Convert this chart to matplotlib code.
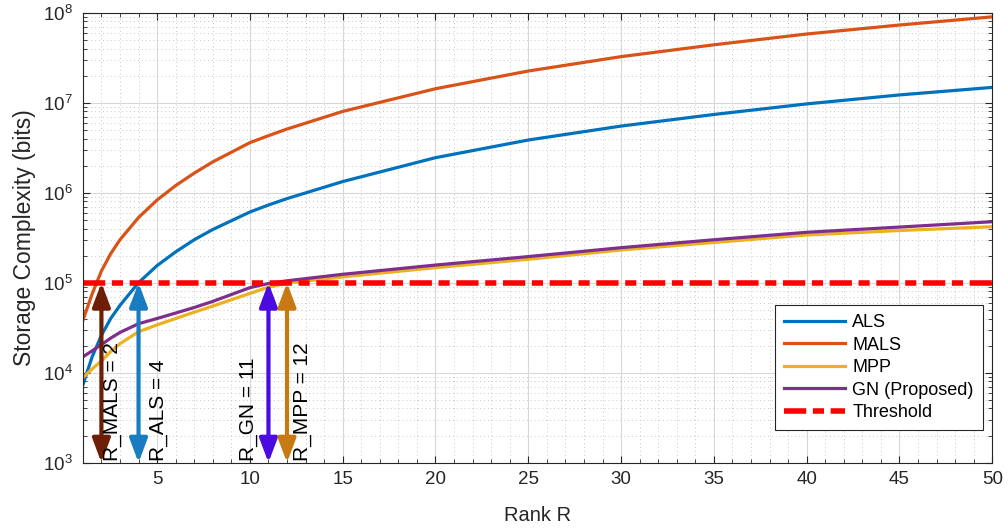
import matplotlib
matplotlib.use('Agg')
import matplotlib.pyplot as plt
from matplotlib.ticker import MultipleLocator, LogLocator, NullFormatter
from matplotlib.patches import ArrowStyle

plt.rcParams['font.family'] = ['Liberation Sans', 'DejaVu Sans']
plt.rcParams['mathtext.default'] = 'regular'

# rank values where the curves were read
rank = [1, 1.5, 2, 2.5, 3, 4, 5, 6, 7, 8, 10, 11, 12, 15, 20, 25, 30, 35, 40, 45, 50]

# storage complexity (bits)
als = [7.3e3, 1.5e4, 2.6e4, 4.0e4, 5.6e4, 1.0e5, 1.55e5, 2.2e5, 3.0e5, 3.9e5, 6.1e5,
       7.3e5, 8.6e5, 1.33e6, 2.45e6, 3.85e6, 5.5e6, 7.4e6, 9.7e6, 1.22e7, 1.48e7]
mals = [3.8e4, 7.5e4, 1.35e5, 2.1e5, 3.0e5, 5.3e5, 8.3e5, 1.2e6, 1.65e6, 2.2e6, 3.6e6,
        4.3e6, 5.1e6, 8.0e6, 1.43e7, 2.25e7, 3.25e7, 4.4e7, 5.8e7, 7.3e7, 9.0e7]
mpp = [8.8e3, 1.1e4, 1.35e4, 1.72e4, 2.1e4, 2.85e4, 3.4e4, 4.0e4, 4.7e4, 5.5e4, 7.6e4,
       8.9e4, 9.9e4, 1.16e5, 1.47e5, 1.82e5, 2.31e5, 2.8e5, 3.39e5, 3.8e5, 4.19e5]
gn = [1.5e4, 1.75e4, 2.05e4, 2.42e4, 2.8e4, 3.5e4, 4.0e4, 4.6e4, 5.3e4, 6.2e4, 8.8e4,
      9.8e4, 1.05e5, 1.24e5, 1.57e5, 1.95e5, 2.45e5, 3.0e5, 3.63e5, 4.15e5, 4.76e5]
threshold = 1e5

# rank markers (label, rank, colour, label x position)
marker_labels = ['R_MALS = 2', 'R_ALS = 4', 'R_GN = 11', 'R_MPP = 12']
marker_ranks = [2, 4, 11, 12]
marker_colors = ['#6E1E05', '#1A7CC0', '#4A0AE0', '#C77A12']
label_x = [2.62, 5.05, 9.9, 12.86]

fig = plt.figure(figsize=(10.08, 5.32), dpi=100)
ax = fig.add_axes([0.0822, 0.1303, 0.9022, 0.8458])

ax.plot(rank, als, color='#0072BD', lw=2.3, label='ALS')
ax.plot(rank, mals, color='#D95319', lw=2.3, label='MALS')
ax.plot(rank, mpp, color='#EDB120', lw=2.3, label='MPP')
ax.plot(rank, gn, color='#7E2F8E', lw=2.3, label='GN (Proposed)')
ax.axhline(threshold, color='#FF0000', lw=4, ls=(0, (4, 1.2, 2, 1.2)), label='Threshold')

style = ArrowStyle('<|-|>', head_length=0.8, head_width=0.3)
for lab, r, c, lx in zip(marker_labels, marker_ranks, marker_colors, label_x):
    ax.annotate('', xy=(r, threshold), xytext=(r, 1e3),
                arrowprops=dict(arrowstyle=style, color=c, lw=3.0,
                                mutation_scale=18, shrinkA=0, shrinkB=0))
    ax.text(lx, 1.04e3, lab, rotation=90, ha='center', va='bottom',
            fontsize=15, color='black')

ax.set_yscale('log')
ax.set_xlim(1, 50)
ax.set_ylim(1e3, 1e8)
ax.xaxis.set_major_locator(MultipleLocator(5))
ax.xaxis.set_minor_locator(MultipleLocator(1))
ax.yaxis.set_major_locator(LogLocator(base=10, numticks=10))
ax.yaxis.set_minor_locator(LogLocator(base=10, subs=range(2, 10), numticks=20))
ax.yaxis.set_minor_formatter(NullFormatter())

ax.grid(True, which='major', color='#d8d8d8', lw=0.8)
ax.grid(True, which='minor', color='#c8c8c8', lw=0.7, ls=(0, (1, 3)))
ax.set_axisbelow(True)

ax.tick_params(which='both', direction='in', top=True, right=True,
               colors='#262626', labelsize=13.5)
ax.tick_params(which='major', length=5)
ax.tick_params(which='minor', length=3)
ax.tick_params(axis='x', pad=6)
ax.tick_params(axis='y', pad=7)
for s in ax.spines.values():
    s.set_color('#262626')
    s.set_linewidth(0.8)

ax.set_xlabel('Rank R', fontsize=14.5, color='#262626', labelpad=13)
ax.set_ylabel('Storage Complexity (bits)', fontsize=16.5, color='#262626', labelpad=5)

leg = ax.legend(loc='lower right', bbox_to_anchor=(0.9894, 0.0727), borderaxespad=0,
                fontsize=13, handlelength=3.4, handletextpad=0.4, fancybox=False,
                framealpha=1, edgecolor='#262626', labelspacing=0.3, borderpad=0.5)
leg.get_frame().set_linewidth(0.8)

fig.savefig('out.png', dpi=100)
